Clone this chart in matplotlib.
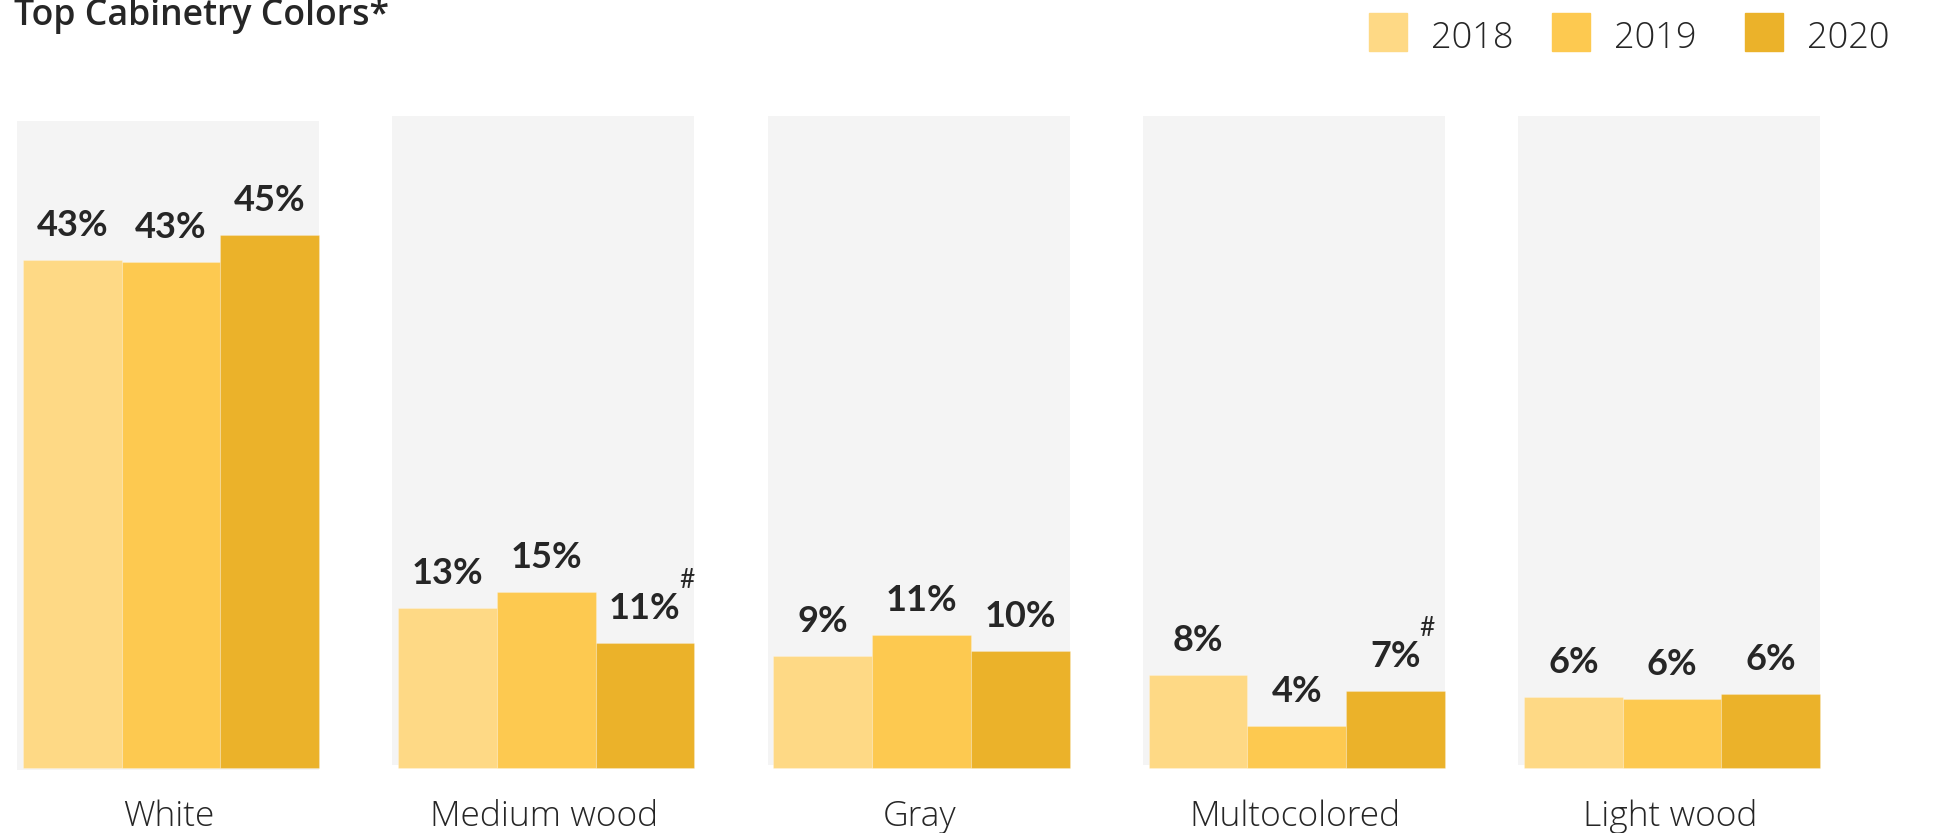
import matplotlib
matplotlib.use("Agg")
import matplotlib.pyplot as plt
from matplotlib.patches import Rectangle

# ---------------- data ----------------
categories = ["White", "Medium wood", "Gray", "Multocolored", "Light wood"]
years = ["2018", "2019", "2020"]
values_2018 = [42.9, 13.5, 9.4, 7.8, 6.0]
values_2019 = [42.7, 14.8, 11.2, 3.55, 5.8]
values_2020 = [45.0, 10.5, 9.85, 6.5, 6.25]
labels_2018 = ["43%", "13%", "9%", "8%", "6%"]
labels_2019 = ["43%", "15%", "11%", "4%", "6%"]
labels_2020 = ["45%", "11%", "10%", "7%", "6%"]
flag_2020 = [False, True, False, True, False]   # '#' marker
title = "Top Cabinetry Colors*"

# ---------------- style ----------------
W, H = 1939, 833
colors = ["#FED985", "#FDC950", "#EBB22A"]
bg_color = "#F4F4F4"
txt_color = "#262626"
BOLD = "Lato"
LIGHT = "Open Sans"
TITLE = "Open Sans"

fig = plt.figure(figsize=(W / 100, H / 100), dpi=100)
fig.patch.set_facecolor("white")

px_per_pct = 11.84
base_px = 767.7            # y (from top) of the bar baseline
ytop = 55.0
ax_bottom = (H - base_px) / H
ax_height = ytop * px_per_pct / H
pitch = 375.3
first_center = 170.9
xlim = (-first_center / pitch, (W - first_center) / pitch)
ax = fig.add_axes([0, ax_bottom, 1, ax_height])
ax.set_xlim(*xlim)
ax.set_ylim(0, ytop)
ax.axis("off")

bar_w = 98.7 / pitch
bg_w = 302 / pitch
bg_shift = -3 / pitch
label_gap = 24 / px_per_pct          # gap between bar top and label baseline
hash_rise = (24 + 25 + 6) / px_per_pct  # baseline of the '#' above bar top

series = [values_2018, values_2019, values_2020]
series_labels = [labels_2018, labels_2019, labels_2020]

for i, cat in enumerate(categories):
    if i == 0:
        bg_bot, bg_top = -0.17, 54.64
    else:
        bg_bot, bg_top = 0.23, 55.04
    ax.bar(i + bg_shift, bg_top - bg_bot, bottom=bg_bot, width=bg_w,
           color=bg_color, zorder=0, clip_on=False)

for j, (vals, labs) in enumerate(zip(series, series_labels)):
    xs = [i + (j - 1) * bar_w for i in range(len(categories))]
    ax.bar(xs, vals, width=bar_w, color=colors[j], zorder=2,
           edgecolor=(1, 1, 1, 0.22), linewidth=0.8, clip_on=False)
    for k, (x, v, lab) in enumerate(zip(xs, vals, labs)):
        t = ax.text(x, v + label_gap, lab, ha="center", va="baseline",
                    fontsize=26, fontweight="bold", family=BOLD,
                    color=txt_color, zorder=3)
        if j == 2 and flag_2020[k]:
            ax.annotate("#", xy=(1, v + hash_rise), xycoords=(t, "data"),
                        xytext=(-1, 0), textcoords="offset points",
                        ha="left", va="baseline",
                        fontsize=19, family=BOLD, color=txt_color)

for i, cat in enumerate(categories):
    ax.text(i - 2 / pitch, -4.9, cat, ha="center", va="baseline",
            fontsize=25.5, fontweight="light", family=LIGHT,
            color=txt_color, clip_on=False)

# title
fig.text(14 / W, 1 - 25 / H, title, ha="left", va="baseline",
         fontsize=25.7, fontweight="semibold", family=TITLE, color=txt_color)

# legend
sq_left = [1369, 1552, 1745]
txt_left = [1431, 1614, 1807]
for k, yr in enumerate(years):
    fig.add_artist(Rectangle((sq_left[k] / W, 1 - 50.7 / H), 38 / W, 38 / H,
                             transform=fig.transFigure, color=colors[k]))
    fig.text(txt_left[k] / W, 1 - 48 / H, yr, ha="left", va="baseline",
             fontsize=26, fontweight="light", family=LIGHT, color=txt_color)

fig.savefig("out.png", dpi=100)
